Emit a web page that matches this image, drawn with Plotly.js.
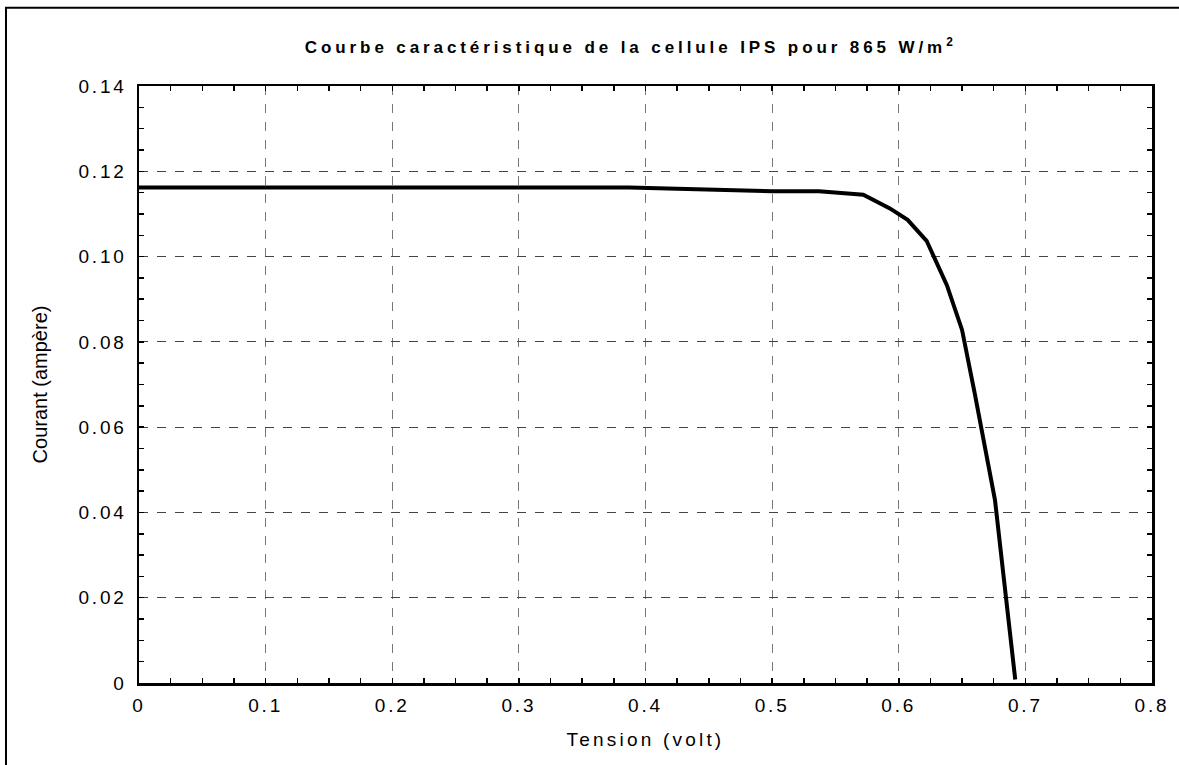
<!DOCTYPE html>
<html>
<head>
<meta charset="utf-8">
<script src="https://cdn.plot.ly/plotly-3.0.1.min.js"></script>
<style>
html, body { margin: 0; padding: 0; background: #fff; }
#chart { width: 1179px; height: 765px; }
.gtitle { letter-spacing: 3.9px; }
.xtick text { letter-spacing: 2.8px; }
.ytick text { letter-spacing: 2.8px; }
.xtitle { letter-spacing: 3.2px; }
</style>
</head>
<body>
<div id="chart"></div>
<script>
// I-V curve data (volt, ampere)
const tension = [0, 0.081, 0.16, 0.28, 0.387, 0.5, 0.537, 0.572, 0.593, 0.607, 0.622, 0.638, 0.650, 0.660, 0.676, 0.692];
const courant = [0.1162, 0.1162, 0.1162, 0.1162, 0.1162, 0.1153, 0.1153, 0.1145, 0.1113, 0.1086, 0.1037, 0.0933, 0.0828, 0.0679, 0.0429, 0.0008];

const xTickVals = [0, 0.1, 0.2, 0.3, 0.4, 0.5, 0.6, 0.7, 0.8];
const xTickText = ["0", "0.1", "0.2", "0.3", "0.4", "0.5", "0.6", "0.7", "0.8"];
const yTickVals = [0, 0.02, 0.04, 0.06, 0.08, 0.10, 0.12, 0.14];
const yTickText = ["0", "0.02", "0.04", "0.06", "0.08", "0.10", "0.12", "0.14"];

const titleText = "Courbe caractéristique de la cellule IPS pour 865 W/m<sup>2</sup>";
const xTitle = "Tension (volt)";
const yTitle = "Courant (ampère)";

const font = "Liberation Sans, Arial, sans-serif";

const trace = {
  x: tension,
  y: courant,
  type: "scatter",
  mode: "lines",
  line: { color: "#000", width: 4 },
  hoverinfo: "skip"
};

const axisCommon = {
  showline: true,
  linecolor: "#000",
  linewidth: 2.5,
  mirror: "ticks",
  ticks: "inside",
  ticklen: 5,
  tickwidth: 1.5,
  tickcolor: "#000",
  showgrid: true,
  gridwidth: 1,
  griddash: "dash",
  zeroline: false,
  tickfont: { family: font, size: 19, color: "#000" }
};

const layout = {
  width: 1179,
  height: 765,
  paper_bgcolor: "#fff",
  plot_bgcolor: "#fff",
  showlegend: false,
  margin: { l: 139, r: 27, t: 86, b: 82 },
  title: {
    text: titleText,
    font: { family: font, size: 17, color: "#000", weight: "bold" },
    xref: "container",
    x: 0.535,
    xanchor: "center",
    yref: "container",
    y: 1 - 47 / 765,
    yanchor: "middle"
  },
  xaxis: Object.assign({}, axisCommon, {
    range: [0, 0.8],
    tickvals: xTickVals,
    ticktext: xTickText,
    gridcolor: "#777",
    ticklabelstandoff: 4,
    minor: { ticks: "inside", dtick: 0.025, ticklen: 5, tickwidth: 1.5, tickcolor: "#000", showgrid: false },
    title: { text: xTitle, font: { family: font, size: 19, color: "#000" }, standoff: 18 }
  }),
  yaxis: Object.assign({}, axisCommon, {
    range: [0, 0.14],
    tickvals: yTickVals,
    ticktext: yTickText,
    gridcolor: "#444",
    ticklabelstandoff: 6,
    minor: { ticks: "inside", dtick: 0.005, ticklen: 5, tickwidth: 1.5, tickcolor: "#000", showgrid: false },
    title: { text: yTitle, font: { family: font, size: 20, color: "#000" }, standoff: 26 }
  }),
  shapes: [
    {
      type: "rect", xref: "paper", yref: "paper",
      x0: -0.1313, x1: 1.2, y0: -0.3, y1: 1.1309,
      line: { color: "#000", width: 2 },
      fillcolor: "rgba(0,0,0,0)",
      layer: "below"
    }
  ]
};

Plotly.newPlot("chart", [trace], layout, { displayModeBar: false, staticPlot: true });
</script>
</body>
</html>
